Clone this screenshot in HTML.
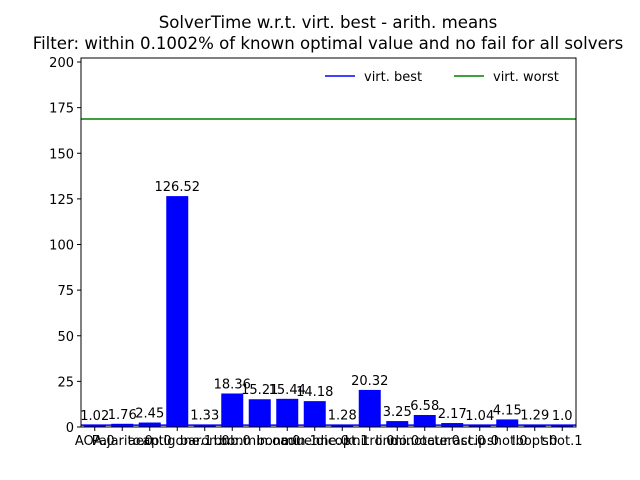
<!DOCTYPE html>
<html><head><meta charset="utf-8"><style>
body{margin:0;background:#fff}
svg{display:block;font-family:"DejaVu Sans","Liberation Sans",sans-serif}
</style></head><body>
<svg id="chart" width="640" height="480">
<rect width="640" height="480" fill="#fff"/>
<text x="328" y="28" text-anchor="middle" font-size="16.6">SolverTime w.r.t. virt. best - arith. means</text>
<text x="328" y="49" text-anchor="middle" font-size="16.6">Filter: within 0.1002% of known optimal value and no fail for all solvers</text>
<g id="plot"></g>
</svg>
<script>
const categories=["AOA.0","Pajarito.0","aecp.0","antigone.1","baron.0","bnb.0","bonmin.oa.0","bonmin.1","couenne.0","dicopt.1","knitro.0","lindo.0","minotaur.0","octeract.0","scip.0","shot.0","lbopt.0","shot.1"];
const values=[1.02,1.76,2.45,126.52,1.33,18.36,15.21,15.44,14.18,1.28,20.32,3.25,6.58,2.17,1.04,4.15,1.29,1.0];
const labels=["1.02","1.76","2.45","126.52","1.33","18.36","15.21","15.44","14.18","1.28","20.32","3.25","6.58","2.17","1.04","4.15","1.29","1.0"];
const yTicks=[0,25,50,75,100,125,150,175,200];
const virtBest=1.0, virtWorst=168.8;
const L=81,R=576,T=58,B=427,yMax=202.2;
const X=i=>L+(i+0.5)*(R-L)/categories.length;
const Y=v=>B-v*(B-T)/yMax;
const bw=0.8*(R-L)/categories.length;
const g=document.getElementById('plot');
const NS='http://www.w3.org/2000/svg';
function mk(t,a,txt){const e=document.createElementNS(NS,t);for(const k in a)e.setAttribute(k,a[k]);if(txt!==undefined)e.textContent=txt;g.appendChild(e);return e;}
values.forEach((v,i)=>{
 const r=mk('rect',{x:X(i)-bw/2,y:Y(v),width:bw,height:B-Y(v),fill:'#0000ff'});
 
 
 const t=mk('text',{x:X(i),y:Y(v)-5,'text-anchor':'middle','font-size':'13'},labels[i]);
 
 
 const tk=mk('line',{x1:X(i),x2:X(i),y1:B,y2:B+4,stroke:'#000'});
 
 
 const xl=mk('text',{x:X(i),y:B+18,'text-anchor':'middle','font-size':'13'},categories[i]);
 
 
});
yTicks.forEach(v=>{
 const tk=mk('line',{x1:L-4,x2:L,y1:Y(v),y2:Y(v),stroke:'#000'});
 
 
 const tl=mk('text',{x:L-7,y:Y(v)+5,'text-anchor':'end','font-size':'13'},String(v));
 
 
});
const lb=mk('line',{x1:L,x2:R,y1:Y(virtBest),y2:Y(virtBest),stroke:'#0000ff','stroke-width':1.5});


const lw=mk('line',{x1:L,x2:R,y1:Y(virtWorst),y2:Y(virtWorst),stroke:'#008000','stroke-width':1.5});


const fr=mk('rect',{x:L,y:T,width:R-L,height:B-T,fill:'none',stroke:'#000'});


const l1=mk('line',{x1:325,x2:355,y1:76,y2:76,stroke:'#0000ff','stroke-width':1.5});


const t1=mk('text',{x:364,y:81,'font-size':'13'},'virt. best');


const l2=mk('line',{x1:454,x2:484,y1:76,y2:76,stroke:'#008000','stroke-width':1.5});


const t2=mk('text',{x:493,y:81,'font-size':'13'},'virt. worst');


</script>
</body></html>
